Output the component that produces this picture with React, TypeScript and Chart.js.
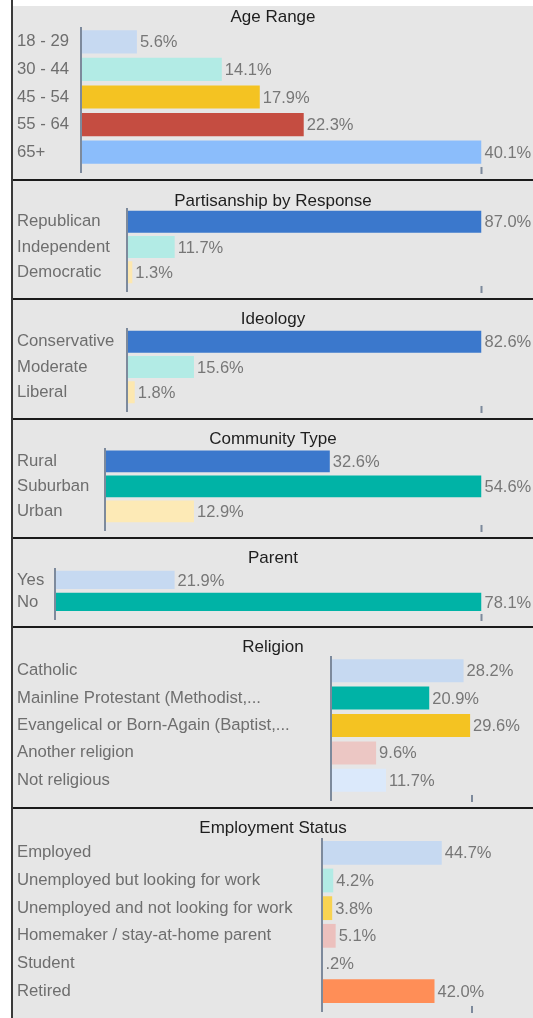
import React, { useEffect, useRef } from 'react';
import { Chart, registerables } from 'chart.js';

Chart.register(...registerables);

// ---------- data ----------
const ageLabels = ['18 - 29', '30 - 44', '45 - 54', '55 - 64', '65+'];
const ageValues = [5.6, 14.1, 17.9, 22.3, 40.1];
const ageColors = ['#c6d9f1', '#b2ebe5', '#f4c322', '#c54d41', '#8bbdfb'];

const partyLabels = ['Republican', 'Independent', 'Democratic'];
const partyValues = [87.0, 11.7, 1.3];
const partyColors = ['#3b78cc', '#b2ebe5', '#fde8b0'];

const ideologyLabels = ['Conservative', 'Moderate', 'Liberal'];
const ideologyValues = [82.6, 15.6, 1.8];
const ideologyColors = ['#3b78cc', '#b2ebe5', '#fde8b0'];

const communityLabels = ['Rural', 'Suburban', 'Urban'];
const communityValues = [32.6, 54.6, 12.9];
const communityColors = ['#3b78cc', '#00b3a6', '#fdeab6'];

const parentLabels = ['Yes', 'No'];
const parentValues = [21.9, 78.1];
const parentColors = ['#c6d9f1', '#00b3a6'];

const religionLabels = [
  'Catholic',
  'Mainline Protestant (Methodist,...',
  'Evangelical or Born-Again (Baptist,...',
  'Another religion',
  'Not religious',
];
const religionValues = [28.2, 20.9, 29.6, 9.6, 11.7];
const religionColors = ['#c6d9f1', '#00b3a6', '#f4c322', '#ecc7c4', '#dbe9fb'];

const employmentLabels = [
  'Employed',
  'Unemployed but looking for work',
  'Unemployed and not looking for work',
  'Homemaker / stay-at-home parent',
  'Student',
  'Retired',
];
const employmentValues = [44.7, 4.2, 3.8, 5.1, 0.2, 42.0];
const employmentColors = ['#c6d9f1', '#b2ebe5', '#f8d352', '#ecc0bd', '#c6d9f1', '#ff8e57'];

// ---------- styling ----------
const FONT = '"Liberation Sans", Arial, Helvetica, sans-serif';
const LABEL_SIZE = 16.7;
const VALUE_SIZE = 16.5;
const TITLE_SIZE = 17;
const LABEL_COLOR = '#6e6e6e';
const VALUE_COLOR = '#777777';
const TITLE_COLOR = '#1e1e1e';
const AXIS_COLOR = '#7d8a9c';
const PANEL_BG = '#e6e6e6';
const CANVAS_W = 520;
const CANVAS_LEFT = 13;

type Spec = {
  title: string;
  labels: string[];
  values: number[];
  colors: string[];
  max: number;
  height: number;
  axisX: number;
  rightX: number;
  titleBaseline: number;
  catTop: number;
  catBottom: number;
  barPct: number;
};

const maxOf = (a: number[]) => Math.max(...a);

const panels: Spec[] = [
  { title: 'Age Range', labels: ageLabels, values: ageValues, colors: ageColors, max: maxOf(ageValues),
    height: 173, axisX: 81, rightX: 481.5, titleBaseline: 16, catTop: 22, catBottom: 161.5, barPct: 0.84 },
  { title: 'Partisanship by Response', labels: partyLabels, values: partyValues, colors: partyColors, max: maxOf(partyValues),
    height: 117, axisX: 127, rightX: 481.5, titleBaseline: 25, catTop: 28, catBottom: 106, barPct: 0.87 },
  { title: 'Ideology', labels: ideologyLabels, values: ideologyValues, colors: ideologyColors, max: maxOf(ideologyValues),
    height: 118, axisX: 127, rightX: 481.5, titleBaseline: 24, catTop: 29, catBottom: 107, barPct: 0.87 },
  { title: 'Community Type', labels: communityLabels, values: communityValues, colors: communityColors, max: maxOf(communityValues),
    height: 117, axisX: 105, rightX: 481.5, titleBaseline: 24, catTop: 29, catBottom: 107, barPct: 0.87 },
  { title: 'Parent', labels: parentLabels, values: parentValues, colors: parentColors, max: maxOf(parentValues),
    height: 87, axisX: 55, rightX: 481.5, titleBaseline: 24, catTop: 30, catBottom: 75, barPct: 0.83 },
  { title: 'Religion', labels: religionLabels, values: religionValues, colors: religionColors, max: 30,
    height: 179, axisX: 331, rightX: 472, titleBaseline: 24, catTop: 29, catBottom: 168, barPct: 0.84 },
  { title: 'Employment Status', labels: employmentLabels, values: employmentValues, colors: employmentColors, max: 56,
    height: 209, axisX: 322, rightX: 472, titleBaseline: 24, catTop: 30, catBottom: 200, barPct: 0.86 },
];

const fmt = (v: number) => v.toFixed(1).replace(/^0\./, '.') + '%';

function decor(spec: Spec) {
  return {
    id: 'decor',
    afterDatasetsDraw(chart: any) {
      const { ctx, chartArea: a } = chart;
      ctx.save();
      ctx.fillStyle = AXIS_COLOR;
      ctx.fillRect(a.left - 1, a.top - 1, 2, a.bottom - a.top + 8);
      ctx.fillRect(a.right - 1, a.bottom + 1, 2, 7);

      const meta = chart.getDatasetMeta(0);
      ctx.font = `${VALUE_SIZE}px ${FONT}`;
      ctx.fillStyle = VALUE_COLOR;
      ctx.textBaseline = 'middle';
      ctx.textAlign = 'left';
      meta.data.forEach((el: any, i: number) => {
        ctx.fillText(fmt(spec.values[i]), el.x + 3, el.y + 1);
      });

      ctx.font = `${TITLE_SIZE}px ${FONT}`;
      ctx.fillStyle = TITLE_COLOR;
      ctx.textAlign = 'center';
      ctx.textBaseline = 'alphabetic';
      ctx.fillText(spec.title, chart.width / 2, spec.titleBaseline);
      ctx.restore();
    },
  };
}

function Panel({ spec, first }: { spec: Spec; first: boolean }) {
  const ref = useRef<HTMLCanvasElement>(null);
  useEffect(() => {
    if (!ref.current) return;
    const chart = new Chart(ref.current, {
      type: 'bar',
      data: {
        labels: spec.labels,
        datasets: [
          {
            data: spec.values,
            backgroundColor: spec.colors,
            barPercentage: spec.barPct,
            categoryPercentage: 1,
          },
        ],
      },
      options: {
        indexAxis: 'y',
        responsive: false,
        animation: false,
        layout: {
          padding: {
            left: 4,
            right: CANVAS_W - (spec.rightX - CANVAS_LEFT),
            top: spec.catTop,
            bottom: spec.height - spec.catBottom,
          },
        },
        plugins: {
          legend: { display: false },
          tooltip: { enabled: false },
          title: { display: false },
        },
        scales: {
          x: { display: false, min: 0, max: spec.max },
          y: {
            position: 'left',
            grid: { display: false },
            border: { display: false },
            ticks: {
              crossAlign: 'far',
              autoSkip: false,
              color: LABEL_COLOR,
              font: { family: FONT, size: LABEL_SIZE },
            },
            afterFit: (s: any) => {
              s.width = spec.axisX - CANVAS_LEFT - 4;
            },
          },
        },
      } as any,
      plugins: [decor(spec)],
    });
    return () => chart.destroy();
  }, [spec]);

  return (
    <div
      style={{
        height: spec.height,
        background: PANEL_BG,
        borderTop: first ? 'none' : '2px solid #1b1b1b',
      }}
    >
      <canvas ref={ref} width={CANVAS_W} height={spec.height} style={{ display: 'block' }} />
    </div>
  );
}

export default function App() {
  return (
    <div
      style={{
        position: 'absolute',
        left: 11,
        top: 0,
        width: 522,
        height: 1018,
        boxSizing: 'border-box',
        borderLeft: '2px solid #3a3a3a',
        background: '#ffffff',
        overflow: 'hidden',
      }}
    >
      <div style={{ marginTop: 6 }}>
        {panels.map((p, i) => (
          <Panel key={p.title} spec={p} first={i === 0} />
        ))}
      </div>
    </div>
  );
}
